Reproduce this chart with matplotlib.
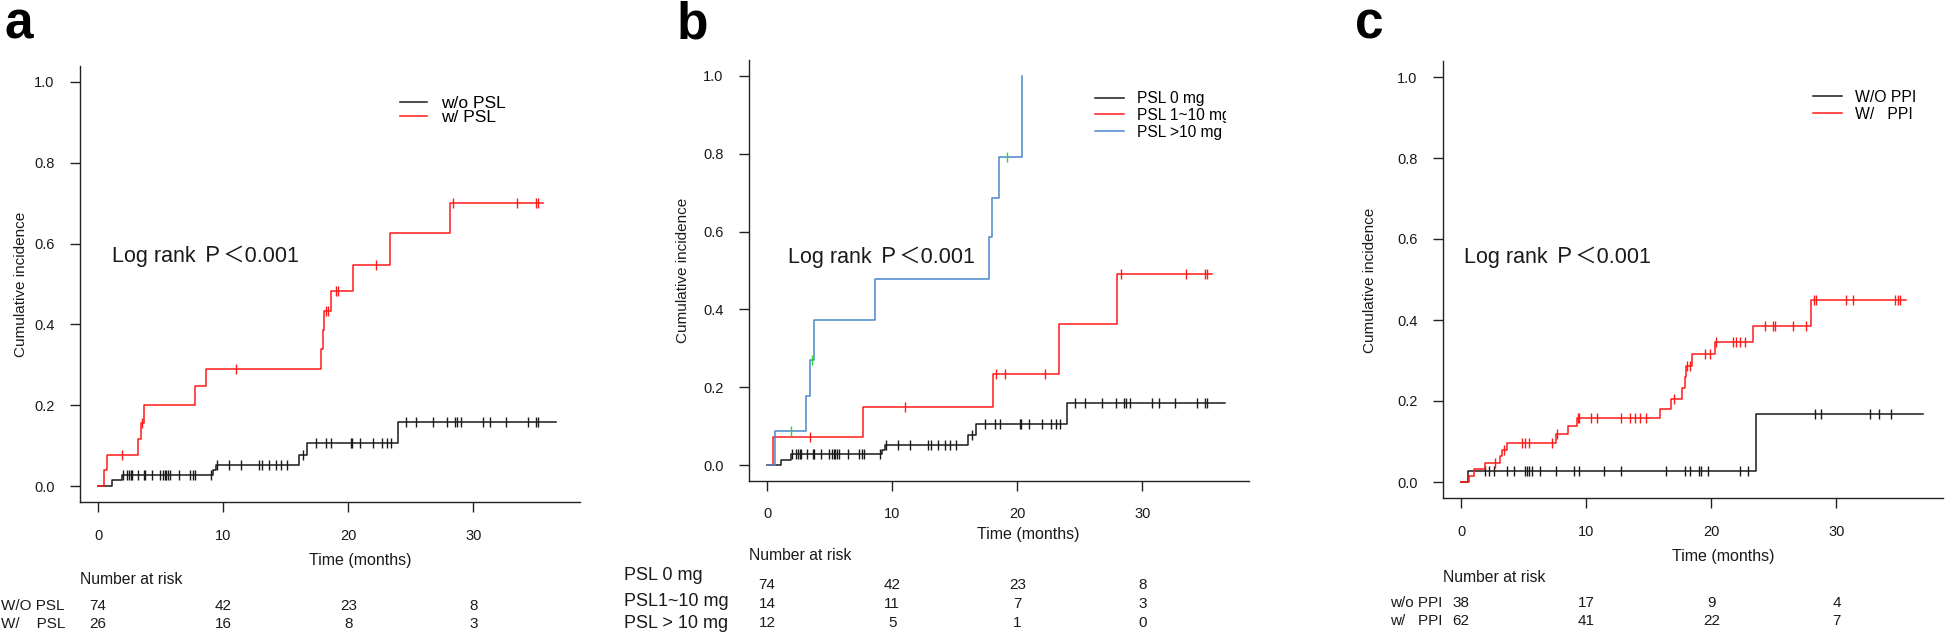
import numpy as np
import matplotlib.pyplot as plt
from matplotlib.transforms import blended_transform_factory, Bbox, TransformedBbox

plt.rcParams['font.family'] = ['Liberation Sans', 'Noto Sans CJK JP', 'DejaVu Sans']

# ---- data (months, cumulative incidence) ----
# panel a / b : no PSL (same cohort)
psl0_ev = [1.1, 1.9, 9.2, 9.45, 16.05, 16.7, 24.0]
psl0_val = [0.014, 0.028, 0.039, 0.051, 0.077, 0.106, 0.159]
psl0_cens = [2.0, 2.3, 2.5, 2.65, 2.72, 3.17, 3.65, 3.78, 4.32, 4.98, 5.2, 5.38, 5.46,
             5.57, 5.73, 6.45, 7.38, 7.6, 7.78, 9.04, 9.5, 10.45, 11.46, 12.9, 13.1, 13.7,
             14.2, 14.6, 15.1, 16.35, 17.4, 18.2, 18.6, 20.2, 20.3, 20.9, 22.0, 22.7, 23.1,
             23.4, 24.6, 25.4, 26.8, 27.9, 28.5, 28.7, 29.0, 30.8, 31.3, 32.6, 34.4, 35.0, 35.2]
psl0_end = 36.6

# panel a : with PSL
psl_ev = [0.5, 0.7, 3.2, 3.4, 3.7, 7.75, 8.65, 17.8, 18.0, 18.1, 18.6, 20.4, 23.3, 28.1]
psl_val = [0.040, 0.078, 0.117, 0.157, 0.200, 0.247, 0.290, 0.338, 0.385, 0.433, 0.483,
           0.548, 0.625, 0.700]
psl_cens = [1.9, 3.5, 11.0, 18.2, 18.4, 19.0, 19.15, 22.2, 28.35, 33.5, 35.0, 35.2]
psl_end = 35.6

# panel b : PSL 1~10 mg
low_ev = [0.5, 7.7, 18.1, 23.3, 28.0]
low_val = [0.073, 0.149, 0.235, 0.362, 0.490]
low_cens = [3.4, 11.0, 18.3, 19.0, 22.2, 28.3, 33.5, 35.0, 35.2]
low_end = 35.6

# panel b : PSL >10 mg
high_ev = [0.65, 3.15, 3.4, 3.75, 8.65, 17.75, 17.95, 18.55, 20.35]
high_val = [0.087, 0.178, 0.270, 0.373, 0.477, 0.585, 0.686, 0.791, 1.0]
high_cens = [1.95, 3.6, 19.2]
high_end = 20.35

# panel c : without PPI
noppi_ev = [0.55, 23.6]
noppi_val = [0.027, 0.167]
noppi_cens = [1.95, 2.25, 2.64, 3.7, 4.2, 5.15, 5.3, 5.4, 5.65, 6.3, 7.6, 9.0, 9.4, 11.4,
              12.8, 16.4, 17.9, 18.3, 19.0, 19.2, 19.75, 22.3, 22.9, 28.3, 28.8, 32.7,
              33.4, 34.4]
noppi_end = 36.9

# panel c : with PPI
ppi_ev = [0.64, 1.07, 1.94, 3.1, 3.3, 3.7, 7.6, 8.57, 9.27, 15.9, 16.8, 17.7, 17.9, 18.0,
          18.45, 20.3, 23.3, 28.0]
ppi_val = [0.016, 0.032, 0.048, 0.064, 0.080, 0.097, 0.118, 0.138, 0.158, 0.180, 0.205,
           0.232, 0.260, 0.287, 0.315, 0.345, 0.385, 0.450]
ppi_cens = [2.7, 3.45, 4.9, 5.1, 5.4, 7.3, 7.7, 9.35, 9.45, 10.4, 10.9, 12.8, 13.5, 13.9,
            14.3, 14.8, 17.0, 18.1, 18.3, 19.5, 19.9, 20.4, 21.7, 22.0, 22.3, 22.7, 24.3,
            24.9, 25.1, 26.5, 27.6, 28.2, 28.4, 30.8, 31.3, 34.7, 34.9, 35.1]
ppi_end = 35.6

risk_times = [0, 10, 20, 30]
risk_a = {'W/O PSL': [74, 42, 23, 8], 'W/    PSL': [26, 16, 8, 3]}
risk_b = {'PSL 0 mg': [74, 42, 23, 8], 'PSL1~10 mg': [14, 11, 7, 3], 'PSL > 10 mg': [12, 5, 1, 0]}
risk_c = {'w/o PPI': [38, 17, 9, 4], 'w/   PPI': [62, 41, 22, 7]}

RED = '#ff1a1a'
BLK = '#1a1a1a'
BLUE = '#4a88cc'
GREEN = '#22dd22'
TXT = '#1a1a1a'

W, H = 1946, 634
fig = plt.figure(figsize=(W / 100, H / 100), dpi=100)


def fx(p):
    return p / W


def fy(p):
    return 1 - p / H


def km(ax, ev, val, cens, end, color, label, ccolor=None):
    x = np.r_[0, ev, end]
    y = np.r_[0, val, val[-1]]
    ax.step(x, y, where='post', color=color, lw=1.1, label=label)
    idx = np.searchsorted(ev, cens, side='right')
    cy = np.r_[0, val][idx]
    ax.plot(cens, cy, ls='none', marker='|', ms=7, mew=1.0, color=ccolor or color)


def setup(rect):
    ax = fig.add_axes(rect)
    ax.set_xlim(-1.48, 38.48)
    ax.set_ylim(-0.04, 1.04)
    for s in ['top', 'right']:
        ax.spines[s].set_visible(False)
    for s in ['left', 'bottom']:
        ax.spines[s].set_linewidth(1.0)
        ax.spines[s].set_color('#222222')
    ax.set_xticks(risk_times)
    ax.set_yticks(np.arange(0, 1.01, 0.2))
    ax.set_yticklabels([f'{v:.1f}' for v in np.arange(0, 1.01, 0.2)])
    ax.tick_params(axis='both', length=7, width=1, color='#222222', labelsize=10.5,
                   labelcolor=TXT)
    ax.tick_params(axis='y', pad=11)
    ax.tick_params(axis='x', pad=12)
    return ax


def risk_table(ax, table, row_y, lab_x, lab_y=None, lab_size=11):
    tr = blended_transform_factory(ax.transData, fig.transFigure)
    for i, (name, nums) in enumerate(table.items()):
        ly = row_y[i] if lab_y is None else lab_y[i]
        fig.text(fx(lab_x), fy(ly), name, fontsize=lab_size, va='center', ha='left', color=TXT)
        for t, n in zip(risk_times, nums):
            ax.text(t, fy(row_y[i]), str(n), transform=tr, fontsize=11, ha='center',
                    va='center', color=TXT)


# ---------------- panel a ----------------
axa = setup([fx(79.5), fy(502.2), fx(500), 436.4 / H])
km(axa, psl0_ev, psl0_val, psl0_cens, psl0_end, BLK, 'w/o PSL')
km(axa, psl_ev, psl_val, psl_cens, psl_end, RED, 'w/ PSL')
axa.text(1.1, 0.568, 'Log rank Ｐ＜0.001', fontsize=15.5, va='center', color=TXT)
axa.legend(loc='upper left', bbox_to_anchor=(0.641, 0.931), frameon=False, borderaxespad=0,
           borderpad=0, handlelength=1.55, handletextpad=0.83, labelspacing=-0.05, fontsize=12.5)
fig.text(fx(21), fy(284), 'Cumulative incidence', rotation=90, ha='center', va='center',
         fontsize=11, color=TXT)
fig.text(fx(360), fy(560), 'Time (months)', ha='center', va='center', fontsize=11.5, color=TXT)
fig.text(fx(80), fy(580), 'Number at risk', ha='left', va='center', fontsize=11.3, color=TXT)
risk_table(axa, risk_a, [606, 624], 1)
fig.text(fx(4), fy(38.5), 'a', fontsize=37, fontweight='bold', va='baseline', color='black')

# ---------------- panel b ----------------
axb = setup([fx(748.5), fy(480.6), fx(500), 420.2 / H])
km(axb, psl0_ev, psl0_val, psl0_cens, psl0_end, BLK, 'PSL 0 mg')
km(axb, low_ev, low_val, low_cens, low_end, RED, 'PSL 1~10 mg')
km(axb, high_ev, high_val, high_cens, high_end, BLUE, 'PSL >10 mg', ccolor=GREEN)
axb.text(1.7, 0.533, 'Log rank Ｐ＜0.001', fontsize=15.5, va='center', color=TXT)
legb = axb.legend(loc='upper left', bbox_to_anchor=(0.693, 0.927), frameon=False,
                  borderaxespad=0, borderpad=0, handlelength=1.85, handletextpad=0.87,
                  labelspacing=0.12, fontsize=11.2)
clip = TransformedBbox(Bbox([[0, 0], [fx(1226), 1]]), fig.transFigure)
for t in legb.get_texts():
    t.set_clip_box(clip)
    t.set_clip_on(True)
fig.text(fx(683), fy(270), 'Cumulative incidence', rotation=90, ha='center', va='center',
         fontsize=11, color=TXT)
fig.text(fx(1028), fy(534), 'Time (months)', ha='center', va='center', fontsize=11.5, color=TXT)
fig.text(fx(749), fy(556), 'Number at risk', ha='left', va='center', fontsize=11.3, color=TXT)
risk_table(axb, risk_b, [585, 604, 623], 624, lab_y=[576, 601, 624], lab_size=13)
fig.text(fx(677), fy(38.5), 'b', fontsize=37, fontweight='bold', va='baseline', color='black')

# ---------------- panel c ----------------
axc = setup([fx(1442.5), fy(498.2), fx(500), 437.4 / H])
km(axc, noppi_ev, noppi_val, noppi_cens, noppi_end, BLK, 'W/O PPI')
km(axc, ppi_ev, ppi_val, ppi_cens, ppi_end, RED, 'W/   PPI')
axc.text(0.2, 0.555, 'Log rank Ｐ＜0.001', fontsize=15.5, va='center', color=TXT)
axc.legend(loc='upper left', bbox_to_anchor=(0.741, 0.934), frameon=False, borderaxespad=0,
           borderpad=0, handlelength=1.83, handletextpad=0.86, labelspacing=0.12, fontsize=11.3)
fig.text(fx(1369.5), fy(280), 'Cumulative incidence', rotation=90, ha='center', va='center',
         fontsize=11, color=TXT)
fig.text(fx(1723), fy(557), 'Time (months)', ha='center', va='center', fontsize=11.5, color=TXT)
fig.text(fx(1443), fy(577), 'Number at risk', ha='left', va='center', fontsize=11.3, color=TXT)
risk_table(axc, risk_c, [603, 621], 1390)
fig.text(fx(1355), fy(38.5), 'c', fontsize=37, fontweight='bold', va='baseline', color='black')

fig.savefig('out.png', dpi=100)
